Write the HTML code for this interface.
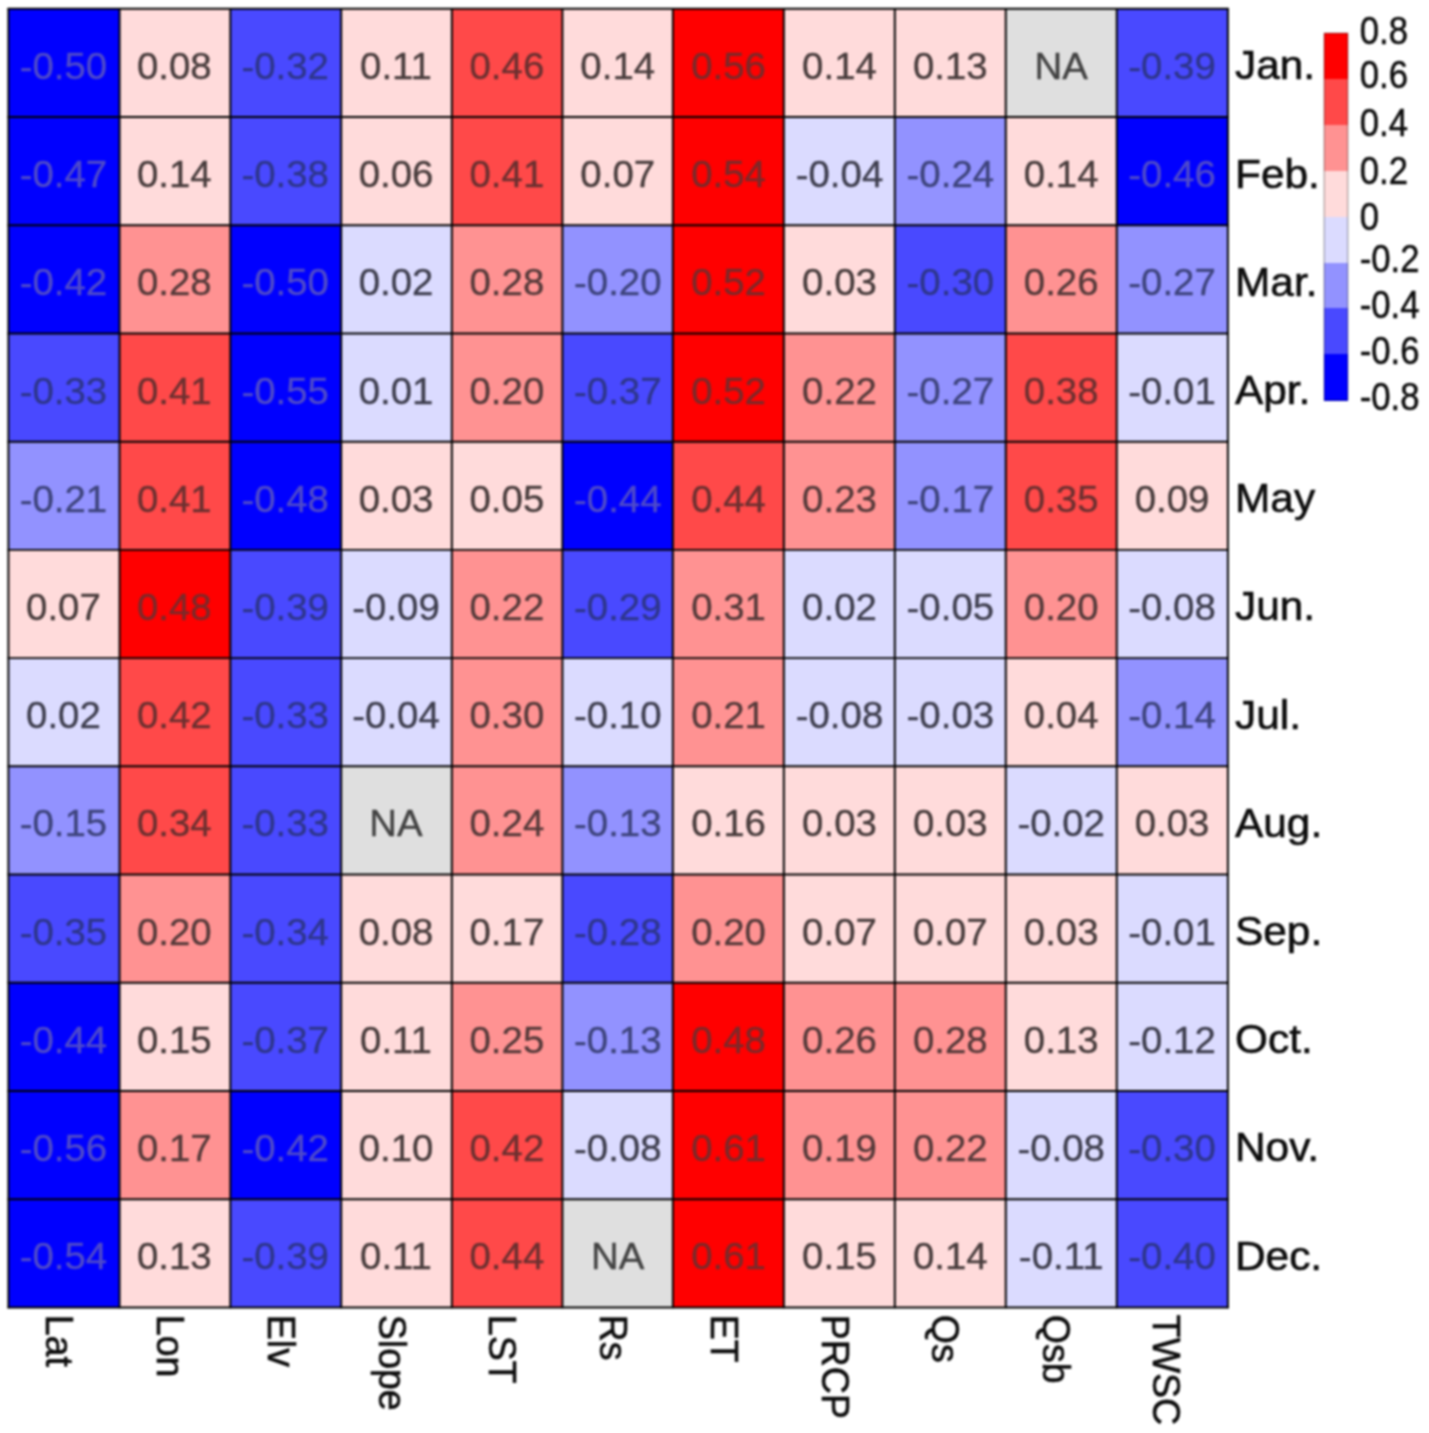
<!DOCTYPE html>
<html><head><meta charset="utf-8"><title>Correlation heatmap</title>
<style>
html,body{margin:0;padding:0;background:#fff;}
body{width:1429px;height:1433px;overflow:hidden;}
svg{display:block;}
text{font-family:"Liberation Sans",sans-serif;}
.c{font-size:37.5px;text-anchor:middle;stroke-width:0.35px;}
.m{font-size:40px;fill:#0c0c0c;stroke:#0c0c0c;stroke-width:0.6px;}
.x{font-size:37.5px;fill:#0c0c0c;stroke:#0c0c0c;stroke-width:0.6px;}
.l{font-size:37.9px;fill:#0c0c0c;stroke:#0c0c0c;stroke-width:0.5px;}
</style></head>
<body>
<svg width="1429" height="1433" viewBox="0 0 1429 1433">
<defs><filter id="soft" filterUnits="userSpaceOnUse" x="-20" y="-20" width="1469" height="1473" color-interpolation-filters="sRGB"><feGaussianBlur stdDeviation="0.9"/></filter></defs>
<g filter="url(#soft)">
<rect x="-20" y="-20" width="1469" height="1473" fill="#ffffff"/>
<g shape-rendering="crispEdges">
<rect x="8.40" y="8.80" width="111.66" height="108.72" fill="#0000ff"/>
<rect x="119.56" y="8.80" width="111.26" height="108.72" fill="#ffdbdb"/>
<rect x="230.33" y="8.80" width="111.36" height="108.72" fill="#4949ff"/>
<rect x="341.19" y="8.80" width="111.16" height="108.72" fill="#ffdbdb"/>
<rect x="451.85" y="8.80" width="111.06" height="108.72" fill="#ff4949"/>
<rect x="562.42" y="8.80" width="110.96" height="108.72" fill="#ffdbdb"/>
<rect x="672.88" y="8.80" width="111.46" height="108.72" fill="#ff0000"/>
<rect x="783.85" y="8.80" width="111.46" height="108.72" fill="#ffdbdb"/>
<rect x="894.81" y="8.80" width="111.46" height="108.72" fill="#ffdbdb"/>
<rect x="1005.77" y="8.80" width="111.46" height="108.72" fill="#dfdfdf"/>
<rect x="1116.74" y="8.80" width="111.66" height="108.72" fill="#4949ff"/>
<rect x="8.40" y="117.02" width="111.66" height="108.72" fill="#0000ff"/>
<rect x="119.56" y="117.02" width="111.26" height="108.72" fill="#ffdbdb"/>
<rect x="230.33" y="117.02" width="111.36" height="108.72" fill="#4949ff"/>
<rect x="341.19" y="117.02" width="111.16" height="108.72" fill="#ffdbdb"/>
<rect x="451.85" y="117.02" width="111.06" height="108.72" fill="#ff4949"/>
<rect x="562.42" y="117.02" width="110.96" height="108.72" fill="#ffdbdb"/>
<rect x="672.88" y="117.02" width="111.46" height="108.72" fill="#ff0000"/>
<rect x="783.85" y="117.02" width="111.46" height="108.72" fill="#dbdbff"/>
<rect x="894.81" y="117.02" width="111.46" height="108.72" fill="#9292ff"/>
<rect x="1005.77" y="117.02" width="111.46" height="108.72" fill="#ffdbdb"/>
<rect x="1116.74" y="117.02" width="111.66" height="108.72" fill="#0000ff"/>
<rect x="8.40" y="225.23" width="111.66" height="108.72" fill="#0000ff"/>
<rect x="119.56" y="225.23" width="111.26" height="108.72" fill="#ff9292"/>
<rect x="230.33" y="225.23" width="111.36" height="108.72" fill="#0000ff"/>
<rect x="341.19" y="225.23" width="111.16" height="108.72" fill="#dbdbff"/>
<rect x="451.85" y="225.23" width="111.06" height="108.72" fill="#ff9292"/>
<rect x="562.42" y="225.23" width="110.96" height="108.72" fill="#9292ff"/>
<rect x="672.88" y="225.23" width="111.46" height="108.72" fill="#ff0000"/>
<rect x="783.85" y="225.23" width="111.46" height="108.72" fill="#ffdbdb"/>
<rect x="894.81" y="225.23" width="111.46" height="108.72" fill="#4949ff"/>
<rect x="1005.77" y="225.23" width="111.46" height="108.72" fill="#ff9292"/>
<rect x="1116.74" y="225.23" width="111.66" height="108.72" fill="#9292ff"/>
<rect x="8.40" y="333.45" width="111.66" height="108.72" fill="#4949ff"/>
<rect x="119.56" y="333.45" width="111.26" height="108.72" fill="#ff4949"/>
<rect x="230.33" y="333.45" width="111.36" height="108.72" fill="#0000ff"/>
<rect x="341.19" y="333.45" width="111.16" height="108.72" fill="#dbdbff"/>
<rect x="451.85" y="333.45" width="111.06" height="108.72" fill="#ff9292"/>
<rect x="562.42" y="333.45" width="110.96" height="108.72" fill="#4949ff"/>
<rect x="672.88" y="333.45" width="111.46" height="108.72" fill="#ff0000"/>
<rect x="783.85" y="333.45" width="111.46" height="108.72" fill="#ff9292"/>
<rect x="894.81" y="333.45" width="111.46" height="108.72" fill="#9292ff"/>
<rect x="1005.77" y="333.45" width="111.46" height="108.72" fill="#ff4949"/>
<rect x="1116.74" y="333.45" width="111.66" height="108.72" fill="#dbdbff"/>
<rect x="8.40" y="441.67" width="111.66" height="108.72" fill="#9292ff"/>
<rect x="119.56" y="441.67" width="111.26" height="108.72" fill="#ff4949"/>
<rect x="230.33" y="441.67" width="111.36" height="108.72" fill="#0000ff"/>
<rect x="341.19" y="441.67" width="111.16" height="108.72" fill="#ffdbdb"/>
<rect x="451.85" y="441.67" width="111.06" height="108.72" fill="#ffdbdb"/>
<rect x="562.42" y="441.67" width="110.96" height="108.72" fill="#0000ff"/>
<rect x="672.88" y="441.67" width="111.46" height="108.72" fill="#ff4949"/>
<rect x="783.85" y="441.67" width="111.46" height="108.72" fill="#ff9292"/>
<rect x="894.81" y="441.67" width="111.46" height="108.72" fill="#9292ff"/>
<rect x="1005.77" y="441.67" width="111.46" height="108.72" fill="#ff4949"/>
<rect x="1116.74" y="441.67" width="111.66" height="108.72" fill="#ffdbdb"/>
<rect x="8.40" y="549.88" width="111.66" height="108.72" fill="#ffdbdb"/>
<rect x="119.56" y="549.88" width="111.26" height="108.72" fill="#ff0000"/>
<rect x="230.33" y="549.88" width="111.36" height="108.72" fill="#4949ff"/>
<rect x="341.19" y="549.88" width="111.16" height="108.72" fill="#dbdbff"/>
<rect x="451.85" y="549.88" width="111.06" height="108.72" fill="#ff9292"/>
<rect x="562.42" y="549.88" width="110.96" height="108.72" fill="#4949ff"/>
<rect x="672.88" y="549.88" width="111.46" height="108.72" fill="#ff9292"/>
<rect x="783.85" y="549.88" width="111.46" height="108.72" fill="#dbdbff"/>
<rect x="894.81" y="549.88" width="111.46" height="108.72" fill="#dbdbff"/>
<rect x="1005.77" y="549.88" width="111.46" height="108.72" fill="#ff9292"/>
<rect x="1116.74" y="549.88" width="111.66" height="108.72" fill="#dbdbff"/>
<rect x="8.40" y="658.10" width="111.66" height="108.72" fill="#dbdbff"/>
<rect x="119.56" y="658.10" width="111.26" height="108.72" fill="#ff4949"/>
<rect x="230.33" y="658.10" width="111.36" height="108.72" fill="#4949ff"/>
<rect x="341.19" y="658.10" width="111.16" height="108.72" fill="#dbdbff"/>
<rect x="451.85" y="658.10" width="111.06" height="108.72" fill="#ff9292"/>
<rect x="562.42" y="658.10" width="110.96" height="108.72" fill="#dbdbff"/>
<rect x="672.88" y="658.10" width="111.46" height="108.72" fill="#ff9292"/>
<rect x="783.85" y="658.10" width="111.46" height="108.72" fill="#dbdbff"/>
<rect x="894.81" y="658.10" width="111.46" height="108.72" fill="#dbdbff"/>
<rect x="1005.77" y="658.10" width="111.46" height="108.72" fill="#ffdbdb"/>
<rect x="1116.74" y="658.10" width="111.66" height="108.72" fill="#9292ff"/>
<rect x="8.40" y="766.32" width="111.66" height="108.72" fill="#9292ff"/>
<rect x="119.56" y="766.32" width="111.26" height="108.72" fill="#ff4949"/>
<rect x="230.33" y="766.32" width="111.36" height="108.72" fill="#4949ff"/>
<rect x="341.19" y="766.32" width="111.16" height="108.72" fill="#dfdfdf"/>
<rect x="451.85" y="766.32" width="111.06" height="108.72" fill="#ff9292"/>
<rect x="562.42" y="766.32" width="110.96" height="108.72" fill="#9292ff"/>
<rect x="672.88" y="766.32" width="111.46" height="108.72" fill="#ffdbdb"/>
<rect x="783.85" y="766.32" width="111.46" height="108.72" fill="#ffdbdb"/>
<rect x="894.81" y="766.32" width="111.46" height="108.72" fill="#ffdbdb"/>
<rect x="1005.77" y="766.32" width="111.46" height="108.72" fill="#dbdbff"/>
<rect x="1116.74" y="766.32" width="111.66" height="108.72" fill="#ffdbdb"/>
<rect x="8.40" y="874.53" width="111.66" height="108.72" fill="#4949ff"/>
<rect x="119.56" y="874.53" width="111.26" height="108.72" fill="#ff9292"/>
<rect x="230.33" y="874.53" width="111.36" height="108.72" fill="#4949ff"/>
<rect x="341.19" y="874.53" width="111.16" height="108.72" fill="#ffdbdb"/>
<rect x="451.85" y="874.53" width="111.06" height="108.72" fill="#ffdbdb"/>
<rect x="562.42" y="874.53" width="110.96" height="108.72" fill="#4949ff"/>
<rect x="672.88" y="874.53" width="111.46" height="108.72" fill="#ff9292"/>
<rect x="783.85" y="874.53" width="111.46" height="108.72" fill="#ffdbdb"/>
<rect x="894.81" y="874.53" width="111.46" height="108.72" fill="#ffdbdb"/>
<rect x="1005.77" y="874.53" width="111.46" height="108.72" fill="#ffdbdb"/>
<rect x="1116.74" y="874.53" width="111.66" height="108.72" fill="#dbdbff"/>
<rect x="8.40" y="982.75" width="111.66" height="108.72" fill="#0000ff"/>
<rect x="119.56" y="982.75" width="111.26" height="108.72" fill="#ffdbdb"/>
<rect x="230.33" y="982.75" width="111.36" height="108.72" fill="#4949ff"/>
<rect x="341.19" y="982.75" width="111.16" height="108.72" fill="#ffdbdb"/>
<rect x="451.85" y="982.75" width="111.06" height="108.72" fill="#ff9292"/>
<rect x="562.42" y="982.75" width="110.96" height="108.72" fill="#9292ff"/>
<rect x="672.88" y="982.75" width="111.46" height="108.72" fill="#ff0000"/>
<rect x="783.85" y="982.75" width="111.46" height="108.72" fill="#ff9292"/>
<rect x="894.81" y="982.75" width="111.46" height="108.72" fill="#ff9292"/>
<rect x="1005.77" y="982.75" width="111.46" height="108.72" fill="#ffdbdb"/>
<rect x="1116.74" y="982.75" width="111.66" height="108.72" fill="#dbdbff"/>
<rect x="8.40" y="1090.97" width="111.66" height="108.72" fill="#0000ff"/>
<rect x="119.56" y="1090.97" width="111.26" height="108.72" fill="#ff9292"/>
<rect x="230.33" y="1090.97" width="111.36" height="108.72" fill="#0000ff"/>
<rect x="341.19" y="1090.97" width="111.16" height="108.72" fill="#ffdbdb"/>
<rect x="451.85" y="1090.97" width="111.06" height="108.72" fill="#ff4949"/>
<rect x="562.42" y="1090.97" width="110.96" height="108.72" fill="#dbdbff"/>
<rect x="672.88" y="1090.97" width="111.46" height="108.72" fill="#ff0000"/>
<rect x="783.85" y="1090.97" width="111.46" height="108.72" fill="#ff9292"/>
<rect x="894.81" y="1090.97" width="111.46" height="108.72" fill="#ff9292"/>
<rect x="1005.77" y="1090.97" width="111.46" height="108.72" fill="#dbdbff"/>
<rect x="1116.74" y="1090.97" width="111.66" height="108.72" fill="#4949ff"/>
<rect x="8.40" y="1199.18" width="111.66" height="108.72" fill="#0000ff"/>
<rect x="119.56" y="1199.18" width="111.26" height="108.72" fill="#ffdbdb"/>
<rect x="230.33" y="1199.18" width="111.36" height="108.72" fill="#4949ff"/>
<rect x="341.19" y="1199.18" width="111.16" height="108.72" fill="#ffdbdb"/>
<rect x="451.85" y="1199.18" width="111.06" height="108.72" fill="#ff4949"/>
<rect x="562.42" y="1199.18" width="110.96" height="108.72" fill="#dfdfdf"/>
<rect x="672.88" y="1199.18" width="111.46" height="108.72" fill="#ff0000"/>
<rect x="783.85" y="1199.18" width="111.46" height="108.72" fill="#ffdbdb"/>
<rect x="894.81" y="1199.18" width="111.46" height="108.72" fill="#ffdbdb"/>
<rect x="1005.77" y="1199.18" width="111.46" height="108.72" fill="#dbdbff"/>
<rect x="1116.74" y="1199.18" width="111.66" height="108.72" fill="#4949ff"/>
</g>
<g stroke="#000" stroke-width="1.95" fill="none">
<line x1="8.40" y1="7.95" x2="8.40" y2="1308.25"/>
<line x1="119.56" y1="7.95" x2="119.56" y2="1308.25"/>
<line x1="230.33" y1="7.95" x2="230.33" y2="1308.25"/>
<line x1="341.19" y1="7.95" x2="341.19" y2="1308.25"/>
<line x1="451.85" y1="7.95" x2="451.85" y2="1308.25"/>
<line x1="562.42" y1="7.95" x2="562.42" y2="1308.25"/>
<line x1="672.88" y1="7.95" x2="672.88" y2="1308.25"/>
<line x1="783.85" y1="7.95" x2="783.85" y2="1308.25"/>
<line x1="894.81" y1="7.95" x2="894.81" y2="1308.25"/>
<line x1="1005.77" y1="7.95" x2="1005.77" y2="1308.25"/>
<line x1="1116.74" y1="7.95" x2="1116.74" y2="1308.25"/>
<line x1="1227.90" y1="7.95" x2="1227.90" y2="1308.25"/>
<line x1="7.55" y1="8.80" x2="1228.75" y2="8.80"/>
<line x1="7.55" y1="117.02" x2="1228.75" y2="117.02"/>
<line x1="7.55" y1="225.23" x2="1228.75" y2="225.23"/>
<line x1="7.55" y1="333.45" x2="1228.75" y2="333.45"/>
<line x1="7.55" y1="441.67" x2="1228.75" y2="441.67"/>
<line x1="7.55" y1="549.88" x2="1228.75" y2="549.88"/>
<line x1="7.55" y1="658.10" x2="1228.75" y2="658.10"/>
<line x1="7.55" y1="766.32" x2="1228.75" y2="766.32"/>
<line x1="7.55" y1="874.53" x2="1228.75" y2="874.53"/>
<line x1="7.55" y1="982.75" x2="1228.75" y2="982.75"/>
<line x1="7.55" y1="1090.97" x2="1228.75" y2="1090.97"/>
<line x1="7.55" y1="1199.18" x2="1228.75" y2="1199.18"/>
<line x1="7.55" y1="1307.40" x2="1228.75" y2="1307.40"/>
</g>
<g>
<text class="c" transform="translate(63.43 78.90) scale(1.0245 1)" fill="#4e4aca" stroke="#4e4aca">-0.50</text>
<text class="c" transform="translate(174.30 78.90) scale(1.0245 1)" fill="#483c3c" stroke="#483c3c">0.08</text>
<text class="c" transform="translate(285.16 78.90) scale(1.0245 1)" fill="#2e368c" stroke="#2e368c">-0.32</text>
<text class="c" transform="translate(396.02 78.90) scale(1.0245 1)" fill="#483c3c" stroke="#483c3c">0.11</text>
<text class="c" transform="translate(506.89 78.90) scale(1.0245 1)" fill="#6c3030" stroke="#6c3030">0.46</text>
<text class="c" transform="translate(617.75 78.90) scale(1.0245 1)" fill="#483c3c" stroke="#483c3c">0.14</text>
<text class="c" transform="translate(728.61 78.90) scale(1.0245 1)" fill="#7a2a2a" stroke="#7a2a2a">0.56</text>
<text class="c" transform="translate(839.48 78.90) scale(1.0245 1)" fill="#483c3c" stroke="#483c3c">0.14</text>
<text class="c" transform="translate(950.34 78.90) scale(1.0245 1)" fill="#483c3c" stroke="#483c3c">0.13</text>
<text class="c" transform="translate(1061.20 78.90) scale(1.0245 1)" fill="#424242" stroke="#424242">NA</text>
<text class="c" transform="translate(1172.07 78.90) scale(1.0245 1)" fill="#2e368c" stroke="#2e368c">-0.39</text>
<text class="c" transform="translate(63.43 187.11) scale(1.0245 1)" fill="#4e4aca" stroke="#4e4aca">-0.47</text>
<text class="c" transform="translate(174.30 187.11) scale(1.0245 1)" fill="#483c3c" stroke="#483c3c">0.14</text>
<text class="c" transform="translate(285.16 187.11) scale(1.0245 1)" fill="#2e368c" stroke="#2e368c">-0.38</text>
<text class="c" transform="translate(396.02 187.11) scale(1.0245 1)" fill="#483c3c" stroke="#483c3c">0.06</text>
<text class="c" transform="translate(506.89 187.11) scale(1.0245 1)" fill="#6c3030" stroke="#6c3030">0.41</text>
<text class="c" transform="translate(617.75 187.11) scale(1.0245 1)" fill="#483c3c" stroke="#483c3c">0.07</text>
<text class="c" transform="translate(728.61 187.11) scale(1.0245 1)" fill="#7a2a2a" stroke="#7a2a2a">0.54</text>
<text class="c" transform="translate(839.48 187.11) scale(1.0245 1)" fill="#3e3e4e" stroke="#3e3e4e">-0.04</text>
<text class="c" transform="translate(950.34 187.11) scale(1.0245 1)" fill="#3e447d" stroke="#3e447d">-0.24</text>
<text class="c" transform="translate(1061.20 187.11) scale(1.0245 1)" fill="#483c3c" stroke="#483c3c">0.14</text>
<text class="c" transform="translate(1172.07 187.11) scale(1.0245 1)" fill="#4e4aca" stroke="#4e4aca">-0.46</text>
<text class="c" transform="translate(63.43 295.32) scale(1.0245 1)" fill="#4e4aca" stroke="#4e4aca">-0.42</text>
<text class="c" transform="translate(174.30 295.32) scale(1.0245 1)" fill="#563a3a" stroke="#563a3a">0.28</text>
<text class="c" transform="translate(285.16 295.32) scale(1.0245 1)" fill="#4e4aca" stroke="#4e4aca">-0.50</text>
<text class="c" transform="translate(396.02 295.32) scale(1.0245 1)" fill="#3e3e4e" stroke="#3e3e4e">0.02</text>
<text class="c" transform="translate(506.89 295.32) scale(1.0245 1)" fill="#563a3a" stroke="#563a3a">0.28</text>
<text class="c" transform="translate(617.75 295.32) scale(1.0245 1)" fill="#3e447d" stroke="#3e447d">-0.20</text>
<text class="c" transform="translate(728.61 295.32) scale(1.0245 1)" fill="#7a2a2a" stroke="#7a2a2a">0.52</text>
<text class="c" transform="translate(839.48 295.32) scale(1.0245 1)" fill="#483c3c" stroke="#483c3c">0.03</text>
<text class="c" transform="translate(950.34 295.32) scale(1.0245 1)" fill="#2e368c" stroke="#2e368c">-0.30</text>
<text class="c" transform="translate(1061.20 295.32) scale(1.0245 1)" fill="#563a3a" stroke="#563a3a">0.26</text>
<text class="c" transform="translate(1172.07 295.32) scale(1.0245 1)" fill="#3e447d" stroke="#3e447d">-0.27</text>
<text class="c" transform="translate(63.43 403.53) scale(1.0245 1)" fill="#2e368c" stroke="#2e368c">-0.33</text>
<text class="c" transform="translate(174.30 403.53) scale(1.0245 1)" fill="#6c3030" stroke="#6c3030">0.41</text>
<text class="c" transform="translate(285.16 403.53) scale(1.0245 1)" fill="#4e4aca" stroke="#4e4aca">-0.55</text>
<text class="c" transform="translate(396.02 403.53) scale(1.0245 1)" fill="#3e3e4e" stroke="#3e3e4e">0.01</text>
<text class="c" transform="translate(506.89 403.53) scale(1.0245 1)" fill="#563a3a" stroke="#563a3a">0.20</text>
<text class="c" transform="translate(617.75 403.53) scale(1.0245 1)" fill="#2e368c" stroke="#2e368c">-0.37</text>
<text class="c" transform="translate(728.61 403.53) scale(1.0245 1)" fill="#7a2a2a" stroke="#7a2a2a">0.52</text>
<text class="c" transform="translate(839.48 403.53) scale(1.0245 1)" fill="#563a3a" stroke="#563a3a">0.22</text>
<text class="c" transform="translate(950.34 403.53) scale(1.0245 1)" fill="#3e447d" stroke="#3e447d">-0.27</text>
<text class="c" transform="translate(1061.20 403.53) scale(1.0245 1)" fill="#6c3030" stroke="#6c3030">0.38</text>
<text class="c" transform="translate(1172.07 403.53) scale(1.0245 1)" fill="#3e3e4e" stroke="#3e3e4e">-0.01</text>
<text class="c" transform="translate(63.43 511.74) scale(1.0245 1)" fill="#3e447d" stroke="#3e447d">-0.21</text>
<text class="c" transform="translate(174.30 511.74) scale(1.0245 1)" fill="#6c3030" stroke="#6c3030">0.41</text>
<text class="c" transform="translate(285.16 511.74) scale(1.0245 1)" fill="#4e4aca" stroke="#4e4aca">-0.48</text>
<text class="c" transform="translate(396.02 511.74) scale(1.0245 1)" fill="#483c3c" stroke="#483c3c">0.03</text>
<text class="c" transform="translate(506.89 511.74) scale(1.0245 1)" fill="#483c3c" stroke="#483c3c">0.05</text>
<text class="c" transform="translate(617.75 511.74) scale(1.0245 1)" fill="#4e4aca" stroke="#4e4aca">-0.44</text>
<text class="c" transform="translate(728.61 511.74) scale(1.0245 1)" fill="#6c3030" stroke="#6c3030">0.44</text>
<text class="c" transform="translate(839.48 511.74) scale(1.0245 1)" fill="#563a3a" stroke="#563a3a">0.23</text>
<text class="c" transform="translate(950.34 511.74) scale(1.0245 1)" fill="#3e447d" stroke="#3e447d">-0.17</text>
<text class="c" transform="translate(1061.20 511.74) scale(1.0245 1)" fill="#6c3030" stroke="#6c3030">0.35</text>
<text class="c" transform="translate(1172.07 511.74) scale(1.0245 1)" fill="#483c3c" stroke="#483c3c">0.09</text>
<text class="c" transform="translate(63.43 619.95) scale(1.0245 1)" fill="#483c3c" stroke="#483c3c">0.07</text>
<text class="c" transform="translate(174.30 619.95) scale(1.0245 1)" fill="#7a2a2a" stroke="#7a2a2a">0.48</text>
<text class="c" transform="translate(285.16 619.95) scale(1.0245 1)" fill="#2e368c" stroke="#2e368c">-0.39</text>
<text class="c" transform="translate(396.02 619.95) scale(1.0245 1)" fill="#3e3e4e" stroke="#3e3e4e">-0.09</text>
<text class="c" transform="translate(506.89 619.95) scale(1.0245 1)" fill="#563a3a" stroke="#563a3a">0.22</text>
<text class="c" transform="translate(617.75 619.95) scale(1.0245 1)" fill="#2e368c" stroke="#2e368c">-0.29</text>
<text class="c" transform="translate(728.61 619.95) scale(1.0245 1)" fill="#563a3a" stroke="#563a3a">0.31</text>
<text class="c" transform="translate(839.48 619.95) scale(1.0245 1)" fill="#3e3e4e" stroke="#3e3e4e">0.02</text>
<text class="c" transform="translate(950.34 619.95) scale(1.0245 1)" fill="#3e3e4e" stroke="#3e3e4e">-0.05</text>
<text class="c" transform="translate(1061.20 619.95) scale(1.0245 1)" fill="#563a3a" stroke="#563a3a">0.20</text>
<text class="c" transform="translate(1172.07 619.95) scale(1.0245 1)" fill="#3e3e4e" stroke="#3e3e4e">-0.08</text>
<text class="c" transform="translate(63.43 728.15) scale(1.0245 1)" fill="#3e3e4e" stroke="#3e3e4e">0.02</text>
<text class="c" transform="translate(174.30 728.15) scale(1.0245 1)" fill="#6c3030" stroke="#6c3030">0.42</text>
<text class="c" transform="translate(285.16 728.15) scale(1.0245 1)" fill="#2e368c" stroke="#2e368c">-0.33</text>
<text class="c" transform="translate(396.02 728.15) scale(1.0245 1)" fill="#3e3e4e" stroke="#3e3e4e">-0.04</text>
<text class="c" transform="translate(506.89 728.15) scale(1.0245 1)" fill="#563a3a" stroke="#563a3a">0.30</text>
<text class="c" transform="translate(617.75 728.15) scale(1.0245 1)" fill="#3e3e4e" stroke="#3e3e4e">-0.10</text>
<text class="c" transform="translate(728.61 728.15) scale(1.0245 1)" fill="#563a3a" stroke="#563a3a">0.21</text>
<text class="c" transform="translate(839.48 728.15) scale(1.0245 1)" fill="#3e3e4e" stroke="#3e3e4e">-0.08</text>
<text class="c" transform="translate(950.34 728.15) scale(1.0245 1)" fill="#3e3e4e" stroke="#3e3e4e">-0.03</text>
<text class="c" transform="translate(1061.20 728.15) scale(1.0245 1)" fill="#483c3c" stroke="#483c3c">0.04</text>
<text class="c" transform="translate(1172.07 728.15) scale(1.0245 1)" fill="#3e447d" stroke="#3e447d">-0.14</text>
<text class="c" transform="translate(63.43 836.36) scale(1.0245 1)" fill="#3e447d" stroke="#3e447d">-0.15</text>
<text class="c" transform="translate(174.30 836.36) scale(1.0245 1)" fill="#6c3030" stroke="#6c3030">0.34</text>
<text class="c" transform="translate(285.16 836.36) scale(1.0245 1)" fill="#2e368c" stroke="#2e368c">-0.33</text>
<text class="c" transform="translate(396.02 836.36) scale(1.0245 1)" fill="#424242" stroke="#424242">NA</text>
<text class="c" transform="translate(506.89 836.36) scale(1.0245 1)" fill="#563a3a" stroke="#563a3a">0.24</text>
<text class="c" transform="translate(617.75 836.36) scale(1.0245 1)" fill="#3e447d" stroke="#3e447d">-0.13</text>
<text class="c" transform="translate(728.61 836.36) scale(1.0245 1)" fill="#483c3c" stroke="#483c3c">0.16</text>
<text class="c" transform="translate(839.48 836.36) scale(1.0245 1)" fill="#483c3c" stroke="#483c3c">0.03</text>
<text class="c" transform="translate(950.34 836.36) scale(1.0245 1)" fill="#483c3c" stroke="#483c3c">0.03</text>
<text class="c" transform="translate(1061.20 836.36) scale(1.0245 1)" fill="#3e3e4e" stroke="#3e3e4e">-0.02</text>
<text class="c" transform="translate(1172.07 836.36) scale(1.0245 1)" fill="#483c3c" stroke="#483c3c">0.03</text>
<text class="c" transform="translate(63.43 944.57) scale(1.0245 1)" fill="#2e368c" stroke="#2e368c">-0.35</text>
<text class="c" transform="translate(174.30 944.57) scale(1.0245 1)" fill="#563a3a" stroke="#563a3a">0.20</text>
<text class="c" transform="translate(285.16 944.57) scale(1.0245 1)" fill="#2e368c" stroke="#2e368c">-0.34</text>
<text class="c" transform="translate(396.02 944.57) scale(1.0245 1)" fill="#483c3c" stroke="#483c3c">0.08</text>
<text class="c" transform="translate(506.89 944.57) scale(1.0245 1)" fill="#483c3c" stroke="#483c3c">0.17</text>
<text class="c" transform="translate(617.75 944.57) scale(1.0245 1)" fill="#2e368c" stroke="#2e368c">-0.28</text>
<text class="c" transform="translate(728.61 944.57) scale(1.0245 1)" fill="#563a3a" stroke="#563a3a">0.20</text>
<text class="c" transform="translate(839.48 944.57) scale(1.0245 1)" fill="#483c3c" stroke="#483c3c">0.07</text>
<text class="c" transform="translate(950.34 944.57) scale(1.0245 1)" fill="#483c3c" stroke="#483c3c">0.07</text>
<text class="c" transform="translate(1061.20 944.57) scale(1.0245 1)" fill="#483c3c" stroke="#483c3c">0.03</text>
<text class="c" transform="translate(1172.07 944.57) scale(1.0245 1)" fill="#3e3e4e" stroke="#3e3e4e">-0.01</text>
<text class="c" transform="translate(63.43 1052.78) scale(1.0245 1)" fill="#4e4aca" stroke="#4e4aca">-0.44</text>
<text class="c" transform="translate(174.30 1052.78) scale(1.0245 1)" fill="#483c3c" stroke="#483c3c">0.15</text>
<text class="c" transform="translate(285.16 1052.78) scale(1.0245 1)" fill="#2e368c" stroke="#2e368c">-0.37</text>
<text class="c" transform="translate(396.02 1052.78) scale(1.0245 1)" fill="#483c3c" stroke="#483c3c">0.11</text>
<text class="c" transform="translate(506.89 1052.78) scale(1.0245 1)" fill="#563a3a" stroke="#563a3a">0.25</text>
<text class="c" transform="translate(617.75 1052.78) scale(1.0245 1)" fill="#3e447d" stroke="#3e447d">-0.13</text>
<text class="c" transform="translate(728.61 1052.78) scale(1.0245 1)" fill="#7a2a2a" stroke="#7a2a2a">0.48</text>
<text class="c" transform="translate(839.48 1052.78) scale(1.0245 1)" fill="#563a3a" stroke="#563a3a">0.26</text>
<text class="c" transform="translate(950.34 1052.78) scale(1.0245 1)" fill="#563a3a" stroke="#563a3a">0.28</text>
<text class="c" transform="translate(1061.20 1052.78) scale(1.0245 1)" fill="#483c3c" stroke="#483c3c">0.13</text>
<text class="c" transform="translate(1172.07 1052.78) scale(1.0245 1)" fill="#3e3e4e" stroke="#3e3e4e">-0.12</text>
<text class="c" transform="translate(63.43 1160.99) scale(1.0245 1)" fill="#4e4aca" stroke="#4e4aca">-0.56</text>
<text class="c" transform="translate(174.30 1160.99) scale(1.0245 1)" fill="#563a3a" stroke="#563a3a">0.17</text>
<text class="c" transform="translate(285.16 1160.99) scale(1.0245 1)" fill="#4e4aca" stroke="#4e4aca">-0.42</text>
<text class="c" transform="translate(396.02 1160.99) scale(1.0245 1)" fill="#483c3c" stroke="#483c3c">0.10</text>
<text class="c" transform="translate(506.89 1160.99) scale(1.0245 1)" fill="#6c3030" stroke="#6c3030">0.42</text>
<text class="c" transform="translate(617.75 1160.99) scale(1.0245 1)" fill="#3e3e4e" stroke="#3e3e4e">-0.08</text>
<text class="c" transform="translate(728.61 1160.99) scale(1.0245 1)" fill="#7a2a2a" stroke="#7a2a2a">0.61</text>
<text class="c" transform="translate(839.48 1160.99) scale(1.0245 1)" fill="#563a3a" stroke="#563a3a">0.19</text>
<text class="c" transform="translate(950.34 1160.99) scale(1.0245 1)" fill="#563a3a" stroke="#563a3a">0.22</text>
<text class="c" transform="translate(1061.20 1160.99) scale(1.0245 1)" fill="#3e3e4e" stroke="#3e3e4e">-0.08</text>
<text class="c" transform="translate(1172.07 1160.99) scale(1.0245 1)" fill="#2e368c" stroke="#2e368c">-0.30</text>
<text class="c" transform="translate(63.43 1269.20) scale(1.0245 1)" fill="#4e4aca" stroke="#4e4aca">-0.54</text>
<text class="c" transform="translate(174.30 1269.20) scale(1.0245 1)" fill="#483c3c" stroke="#483c3c">0.13</text>
<text class="c" transform="translate(285.16 1269.20) scale(1.0245 1)" fill="#2e368c" stroke="#2e368c">-0.39</text>
<text class="c" transform="translate(396.02 1269.20) scale(1.0245 1)" fill="#483c3c" stroke="#483c3c">0.11</text>
<text class="c" transform="translate(506.89 1269.20) scale(1.0245 1)" fill="#6c3030" stroke="#6c3030">0.44</text>
<text class="c" transform="translate(617.75 1269.20) scale(1.0245 1)" fill="#424242" stroke="#424242">NA</text>
<text class="c" transform="translate(728.61 1269.20) scale(1.0245 1)" fill="#7a2a2a" stroke="#7a2a2a">0.61</text>
<text class="c" transform="translate(839.48 1269.20) scale(1.0245 1)" fill="#483c3c" stroke="#483c3c">0.15</text>
<text class="c" transform="translate(950.34 1269.20) scale(1.0245 1)" fill="#483c3c" stroke="#483c3c">0.14</text>
<text class="c" transform="translate(1061.20 1269.20) scale(1.0245 1)" fill="#3e3e4e" stroke="#3e3e4e">-0.11</text>
<text class="c" transform="translate(1172.07 1269.20) scale(1.0245 1)" fill="#2e368c" stroke="#2e368c">-0.40</text>
</g>
<g>
<text class="m" transform="translate(1235.00 79.40) scale(1.06 1)">Jan.</text>
<text class="m" transform="translate(1235.00 187.61) scale(1.06 1)">Feb.</text>
<text class="m" transform="translate(1235.00 295.82) scale(1.06 1)">Mar.</text>
<text class="m" transform="translate(1235.00 404.03) scale(1.06 1)">Apr.</text>
<text class="m" transform="translate(1235.00 512.24) scale(1.06 1)">May</text>
<text class="m" transform="translate(1235.00 620.45) scale(1.06 1)">Jun.</text>
<text class="m" transform="translate(1235.00 728.65) scale(1.06 1)">Jul.</text>
<text class="m" transform="translate(1235.00 836.86) scale(1.06 1)">Aug.</text>
<text class="m" transform="translate(1235.00 945.07) scale(1.06 1)">Sep.</text>
<text class="m" transform="translate(1235.00 1053.28) scale(1.06 1)">Oct.</text>
<text class="m" transform="translate(1235.00 1161.49) scale(1.06 1)">Nov.</text>
<text class="m" transform="translate(1235.00 1269.70) scale(1.06 1)">Dec.</text>
</g>
<g>
<text class="x" transform="translate(45.63 1314.80) rotate(90) scale(1 1.03475)">Lat</text>
<text class="x" transform="translate(156.65 1314.80) rotate(90) scale(1 1.03475)">Lon</text>
<text class="x" transform="translate(267.61 1314.80) rotate(90) scale(1 1.03475)">Elv</text>
<text class="x" transform="translate(378.51 1314.80) rotate(90) scale(1 1.03475)">Slope</text>
<text class="x" transform="translate(489.36 1314.80) rotate(90) scale(1 1.03475)">LST</text>
<text class="x" transform="translate(600.15 1314.80) rotate(90) scale(1 1.03475)">Rs</text>
<text class="x" transform="translate(710.89 1314.80) rotate(90) scale(1 1.03475)">ET</text>
<text class="x" transform="translate(821.57 1314.80) rotate(90) scale(1 1.03475)">PRCP</text>
<text class="x" transform="translate(932.19 1314.80) rotate(90) scale(1 1.03475)">Qs</text>
<text class="x" transform="translate(1042.76 1314.80) rotate(90) scale(1 1.03475)">Qsb</text>
<text class="x" transform="translate(1153.27 1314.80) rotate(90) scale(1 1.03475)">TWSC</text>
</g>
<g shape-rendering="crispEdges">
<rect x="1324.20" y="33.20" width="23.60" height="46.38" fill="#ff0000"/>
<rect x="1324.20" y="79.08" width="23.60" height="46.38" fill="#ff4949"/>
<rect x="1324.20" y="124.95" width="23.60" height="46.38" fill="#ff9292"/>
<rect x="1324.20" y="170.82" width="23.60" height="46.38" fill="#ffdbdb"/>
<rect x="1324.20" y="216.70" width="23.60" height="46.38" fill="#dbdbff"/>
<rect x="1324.20" y="262.57" width="23.60" height="46.38" fill="#9292ff"/>
<rect x="1324.20" y="308.45" width="23.60" height="46.38" fill="#4949ff"/>
<rect x="1324.20" y="354.32" width="23.60" height="46.38" fill="#0000ff"/>
</g>
<rect x="1324.20" y="33.20" width="23.60" height="367.00" fill="none" stroke="#000" stroke-opacity="0.4" stroke-width="1"/>
<text class="l" transform="translate(1359.80 43.80) scale(0.915 1)">0.8</text>
<text class="l" transform="translate(1359.80 87.80) scale(0.915 1)">0.6</text>
<text class="l" transform="translate(1359.80 135.90) scale(0.915 1)">0.4</text>
<text class="l" transform="translate(1359.80 183.50) scale(0.915 1)">0.2</text>
<text class="l" transform="translate(1359.80 229.60) scale(0.915 1)">0</text>
<text class="l" transform="translate(1359.80 271.70) scale(0.915 1)">-0.2</text>
<text class="l" transform="translate(1359.80 317.70) scale(0.915 1)">-0.4</text>
<text class="l" transform="translate(1359.80 364.30) scale(0.915 1)">-0.6</text>
<text class="l" transform="translate(1359.80 409.70) scale(0.915 1)">-0.8</text>
</g>
</svg>
</body></html>
